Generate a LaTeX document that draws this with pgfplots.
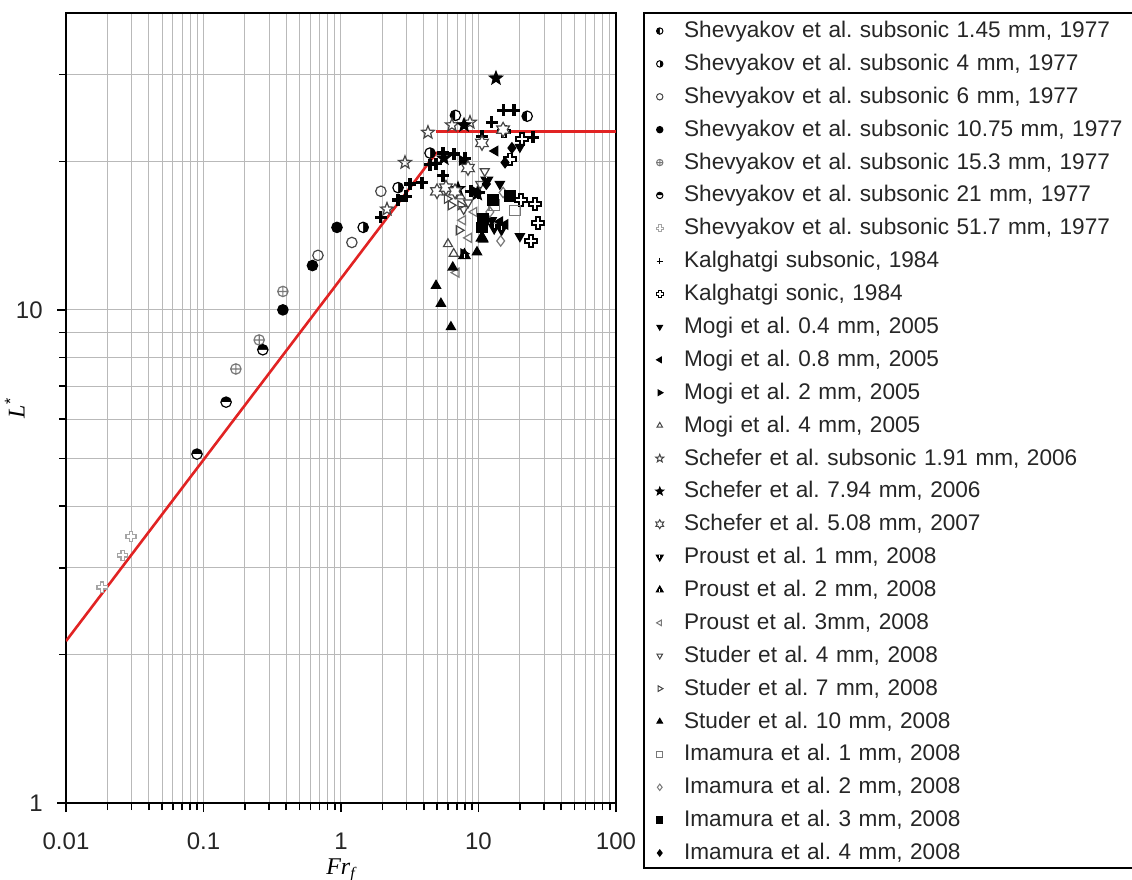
\documentclass[border=0pt]{standalone}
\usepackage{fontspec}
\setmainfont{Liberation Sans}
\newfontfamily\serifit{Liberation Serif}
\usepackage{pgfplots}
\pgfplotsset{compat=1.18}
\usetikzlibrary{plotmarks}
\frenchspacing

\definecolor{lred}{RGB}{225,35,35}
\definecolor{gridgray}{RGB}{185,185,185}
\definecolor{mgray}{RGB}{120,120,120}
\definecolor{lgray}{RGB}{165,165,165}
\definecolor{dgray}{RGB}{70,70,70}

% five point star
\def\starpath{%
  \pgfpathmoveto{\pgfpointpolar{90}{1.3\pgfplotmarksize}}%
  \pgfpathlineto{\pgfpointpolar{126}{0.55\pgfplotmarksize}}%
  \pgfpathlineto{\pgfpointpolar{162}{1.3\pgfplotmarksize}}%
  \pgfpathlineto{\pgfpointpolar{198}{0.55\pgfplotmarksize}}%
  \pgfpathlineto{\pgfpointpolar{234}{1.3\pgfplotmarksize}}%
  \pgfpathlineto{\pgfpointpolar{270}{0.55\pgfplotmarksize}}%
  \pgfpathlineto{\pgfpointpolar{306}{1.3\pgfplotmarksize}}%
  \pgfpathlineto{\pgfpointpolar{342}{0.55\pgfplotmarksize}}%
  \pgfpathlineto{\pgfpointpolar{18}{1.3\pgfplotmarksize}}%
  \pgfpathlineto{\pgfpointpolar{54}{0.55\pgfplotmarksize}}%
  \pgfpathclose}
\pgfdeclareplotmark{star5}{\starpath\pgfusepathqstroke}
\pgfdeclareplotmark{star5*}{\starpath\pgfusepathqfillstroke}

% six point star, outline
\pgfdeclareplotmark{star6}{%
  \pgfpathmoveto{\pgfpointpolar{90}{1.4\pgfplotmarksize}}%
  \pgfpathlineto{\pgfpointpolar{120}{0.8\pgfplotmarksize}}%
  \pgfpathlineto{\pgfpointpolar{150}{1.4\pgfplotmarksize}}%
  \pgfpathlineto{\pgfpointpolar{180}{0.8\pgfplotmarksize}}%
  \pgfpathlineto{\pgfpointpolar{210}{1.4\pgfplotmarksize}}%
  \pgfpathlineto{\pgfpointpolar{240}{0.8\pgfplotmarksize}}%
  \pgfpathlineto{\pgfpointpolar{270}{1.4\pgfplotmarksize}}%
  \pgfpathlineto{\pgfpointpolar{300}{0.8\pgfplotmarksize}}%
  \pgfpathlineto{\pgfpointpolar{330}{1.4\pgfplotmarksize}}%
  \pgfpathlineto{\pgfpointpolar{0}{0.8\pgfplotmarksize}}%
  \pgfpathlineto{\pgfpointpolar{30}{1.4\pgfplotmarksize}}%
  \pgfpathlineto{\pgfpointpolar{60}{0.8\pgfplotmarksize}}%
  \pgfpathclose
  \pgfusepathqfillstroke}

% outlined greek cross
\pgfdeclareplotmark{gcross}{%
  \pgfpathmoveto{\pgfqpoint{0.4\pgfplotmarksize}{1.15\pgfplotmarksize}}%
  \pgfpathlineto{\pgfqpoint{0.4\pgfplotmarksize}{0.4\pgfplotmarksize}}%
  \pgfpathlineto{\pgfqpoint{1.15\pgfplotmarksize}{0.4\pgfplotmarksize}}%
  \pgfpathlineto{\pgfqpoint{1.15\pgfplotmarksize}{-0.4\pgfplotmarksize}}%
  \pgfpathlineto{\pgfqpoint{0.4\pgfplotmarksize}{-0.4\pgfplotmarksize}}%
  \pgfpathlineto{\pgfqpoint{0.4\pgfplotmarksize}{-1.15\pgfplotmarksize}}%
  \pgfpathlineto{\pgfqpoint{-0.4\pgfplotmarksize}{-1.15\pgfplotmarksize}}%
  \pgfpathlineto{\pgfqpoint{-0.4\pgfplotmarksize}{-0.4\pgfplotmarksize}}%
  \pgfpathlineto{\pgfqpoint{-1.15\pgfplotmarksize}{-0.4\pgfplotmarksize}}%
  \pgfpathlineto{\pgfqpoint{-1.15\pgfplotmarksize}{0.4\pgfplotmarksize}}%
  \pgfpathlineto{\pgfqpoint{-0.4\pgfplotmarksize}{0.4\pgfplotmarksize}}%
  \pgfpathlineto{\pgfqpoint{-0.4\pgfplotmarksize}{1.15\pgfplotmarksize}}%
  \pgfpathclose
  \pgfusepathqfillstroke}

% filled triangle with a white notch
\pgfdeclareplotmark{ntri}{%
  \pgfpathmoveto{\pgfpointpolar{90}{1.25\pgfplotmarksize}}%
  \pgfpathlineto{\pgfpointpolar{-30}{1.25\pgfplotmarksize}}%
  \pgfpathlineto{\pgfpointpolar{210}{1.25\pgfplotmarksize}}%
  \pgfpathclose
  \pgfusepathqfillstroke
  \pgfscope
  \pgfsetstrokecolor{white}%
  \pgfpathmoveto{\pgfqpoint{0pt}{-0.6\pgfplotmarksize}}%
  \pgfpathlineto{\pgfqpoint{0pt}{0.2\pgfplotmarksize}}%
  \pgfusepathqstroke
  \endpgfscope}

\pgfplotsset{
  mk/.style={only marks, mark size=2.6pt, line width=0.6pt,
    legend image code/.code={\draw[##1] plot coordinates {(0pt,-0.8pt)};}},
}

\begin{document}
\begin{tikzpicture}
\begin{axis}[
  name=ax,
  xmode=log, ymode=log,
  scale only axis, width=275pt, height=395pt,
  xmin=0.01, xmax=100, ymin=1, ymax=40,
  xtick={0.01,0.1,1,10,100}, xticklabels={0.01,0.1,1,10,100},
  ytick={1,10}, yticklabels={1,10},
  minor xtick={0.02,0.03,0.04,0.05,0.06,0.07,0.08,0.09,0.2,0.3,0.4,0.5,0.6,0.7,0.8,0.9,2,3,4,5,6,7,8,9,20,30,40,50,60,70,80,90},
  minor ytick={2,3,4,5,6,7,8,9,20,30},
  grid=both,
  major grid style={gridgray, line width=0.5pt},
  minor grid style={gridgray, line width=0.5pt},
  tick align=outside, xtick pos=left, ytick pos=left,
  major tick length=4.5pt, minor tick length=3.5pt,
  tick style={black, line width=0.8pt},
  axis line style={line width=1.2pt},
  ticklabel style={font=\fontsize{12}{14}\selectfont, text=black!85},
  xticklabel style={anchor=center, yshift=-14.5pt},
  yticklabel style={anchor=east, inner sep=0pt, xshift=-7pt},
  xlabel={{\serifit\itshape Fr}\textsubscript{\serifit\itshape f}},
  ylabel={{\serifit\itshape L}\textsuperscript{*}},
  xlabel style={at={(axis description cs:0.5,-0.0855)}, anchor=center, font=\fontsize{12}{14}\selectfont},
  ylabel style={at={(axis description cs:-0.093,0.5)}, anchor=center, font=\fontsize{12}{14}\selectfont},
  legend style={at={(1,1)}, anchor=north west, xshift=13.5pt, yshift=0.5pt,
    draw=black, line width=1pt, font=\fontsize{11.3}{14}\selectfont,
    inner xsep=5.9pt, inner ysep=0pt, row sep=0pt, column sep=10.2pt,
    nodes={inner sep=0pt, text height=12.3pt, text depth=4.14pt, text width=240pt, text=black!85}},
  legend cell align=left,
  legend image post style={mark size=1.6pt, line width=0.5pt},
]
% correlation lines
\addplot[lred, line width=1.3pt, forget plot] coordinates {(0.01,2.13) (4.99,20.9)};
\addplot[lred, line width=1.3pt, forget plot] coordinates {(4.9,23) (100,23)};

\addplot[mk, black, mark=halfcircle*, mark options={rotate=90, fill=black}]
  coordinates {(6.8,24.8) (22.6,24.7)};
\addlegendentry{Shevyakov et al. subsonic 1.45 mm, 1977}
\addplot[mk, black, mark=halfcircle*, mark options={rotate=-90, fill=black}]
  coordinates {(2.6,17.7) (1.45,14.7) (4.44,20.8)};
\addlegendentry{Shevyakov et al. subsonic 4 mm, 1977}
\addplot[mk, dgray, mark=o]
  coordinates {(0.68,12.9) (1.2,13.7) (1.95,17.4)};
\addlegendentry{Shevyakov et al. subsonic 6 mm, 1977}
\addplot[mk, black, mark=*]
  coordinates {(0.378,10.0) (0.62,12.3) (0.935,14.7)};
\addlegendentry{Shevyakov et al. subsonic 10.75 mm, 1977}
\addplot[mk, mgray, mark=oplus]
  coordinates {(0.172,7.59) (0.254,8.69) (0.378,10.9)};
\addlegendentry{Shevyakov et al. subsonic 15.3 mm, 1977}
\addplot[mk, black, mark=halfcircle*, mark options={fill=black}]
  coordinates {(0.0897,5.1) (0.146,6.5) (0.27,8.3)};
\addlegendentry{Shevyakov et al. subsonic 21 mm, 1977}
\addplot[mk, lgray, mark=gcross, mark options={fill=white}, mark size=2.2pt]
  coordinates {(0.0183,2.74) (0.0259,3.18) (0.0297,3.47)};
\addlegendentry{Shevyakov et al. subsonic 51.7 mm, 1977}
\addplot[mk, black, mark=+, mark size=3pt, line width=1.6pt]
  coordinates {(1.95,15.4) (2.6,16.7) (2.97,17.0) (3.18,18.0) (3.88,18.1)
    (4.44,19.7) (4.91,19.8) (5.52,18.7) (6.64,20.7) (7.98,20.3) (5.52,20.8)
    (8.82,17.4) (10.1,17.3) (10.6,22.5) (12.5,24.0) (15.1,25.4) (18.1,25.4) (24.9,22.4)};
\addlegendentry{Kalghatgi subsonic, 1984}
\addplot[mk, black, mark=gcross, mark options={fill=white}, line width=0.8pt]
  coordinates {(15.3,23.0) (20.7,22.2) (16.9,20.2) (20.4,16.7) (25.8,16.4) (27.1,15.0) (24.1,13.8)};
\addlegendentry{Kalghatgi sonic, 1984}
\addplot[mk, black, mark=triangle*, mark options={rotate=180}]
  coordinates {(20.0,21.4) (20.0,14.1) (12.5,15.2) (14.3,18.0)};
\addlegendentry{Mogi et al. 0.4 mm, 2005}
\addplot[mk, black, mark=triangle*, mark options={rotate=90}]
  coordinates {(13.2,21.0) (15.6,14.9) (14.3,15.1)};
\addlegendentry{Mogi et al. 0.8 mm, 2005}
\addplot[mk, black, mark=triangle*, mark options={rotate=-90}]
  coordinates {(7.6,20.1) (7.8,13.0) (9.4,17.4)};
\addlegendentry{Mogi et al. 2 mm, 2005}
\addplot[mk, dgray, mark=triangle]
  coordinates {(6.0,13.6) (6.6,13.0) (7.4,17.0)};
\addlegendentry{Mogi et al. 4 mm, 2005}
\addplot[mk, dgray, mark=star5, mark options={fill=white}]
  coordinates {(2.16,16.0) (2.92,19.9) (4.29,22.9) (6.41,23.7) (8.67,24.0)};
\addlegendentry{Schefer et al. subsonic 1.91 mm, 2006}
\addplot[mk, black, mark=star5*, mark options={fill=black}]
  coordinates {(13.4,29.5) (7.85,23.7) (5.6,20.3) (9.8,17.2) (7.1,17.6)};
\addlegendentry{Schefer et al. 7.94 mm, 2006}
\addplot[mk, dgray, mark=star6, mark options={fill=white}]
  coordinates {(10.6,21.8) (8.39,19.4) (4.99,17.4) (5.8,17.7) (6.75,17.4) (15.1,23.2)};
\addlegendentry{Schefer et al. 5.08 mm, 2007}
\addplot[mk, black, mark=ntri, mark options={rotate=180, fill=black}]
  coordinates {(11.5,18.3) (13.0,14.7) (14.7,14.6)};
\addlegendentry{Proust et al. 1 mm, 2008}
\addplot[mk, black, mark=ntri, mark options={fill=black}]
  coordinates {(7.9,12.9) (10.6,14.0)};
\addlegendentry{Proust et al. 2 mm, 2008}
\addplot[mk, mgray, mark=triangle, mark options={rotate=90}]
  coordinates {(7.7,15.2) (8.5,14.0) (6.9,11.9) (9.3,15.8)};
\addlegendentry{Proust et al. 3mm, 2008}
\addplot[mk, dgray, mark=triangle, mark options={rotate=180}]
  coordinates {(11.1,19.1) (8.4,16.5) (7.8,16.0) (10.3,18.0)};
\addlegendentry{Studer et al. 4 mm, 2008}
\addplot[mk, dgray, mark=triangle, mark options={rotate=-90}]
  coordinates {(5.9,16.8) (7.4,16.3) (7.2,14.5) (6.3,16.3)};
\addlegendentry{Studer et al. 7 mm, 2008}
\addplot[mk, black, mark=triangle*]
  coordinates {(4.91,11.2) (5.33,10.3) (6.3,9.23) (9.75,13.1) (6.5,12.2) (10.8,13.9)};
\addlegendentry{Studer et al. 10 mm, 2008}
\addplot[mk, mgray, mark=square]
  coordinates {(18.4,15.9) (13.0,16.3)};
\addlegendentry{Imamura et al. 1 mm, 2008}
\addplot[mk, mgray, mark=diamond]
  coordinates {(15.1,17.3) (12.1,15.8) (14.5,13.8)};
\addlegendentry{Imamura et al. 2 mm, 2008}
\addplot[mk, black, mark=square*]
  coordinates {(12.7,16.7) (16.9,17.0) (10.6,14.7) (10.8,15.3)};
\addlegendentry{Imamura et al. 3 mm, 2008}
\addplot[mk, black, mark=diamond*]
  coordinates {(15.6,19.9) (11.4,18.0) (17.5,21.3)};
\addlegendentry{Imamura et al. 4 mm, 2008}
\end{axis}
\pgfresetboundingbox
\path[use as bounding box] ([xshift=-33pt,yshift=-38pt]ax.south west) rectangle ([xshift=258pt,yshift=6.5pt]ax.north east);
\end{tikzpicture}
\end{document}
